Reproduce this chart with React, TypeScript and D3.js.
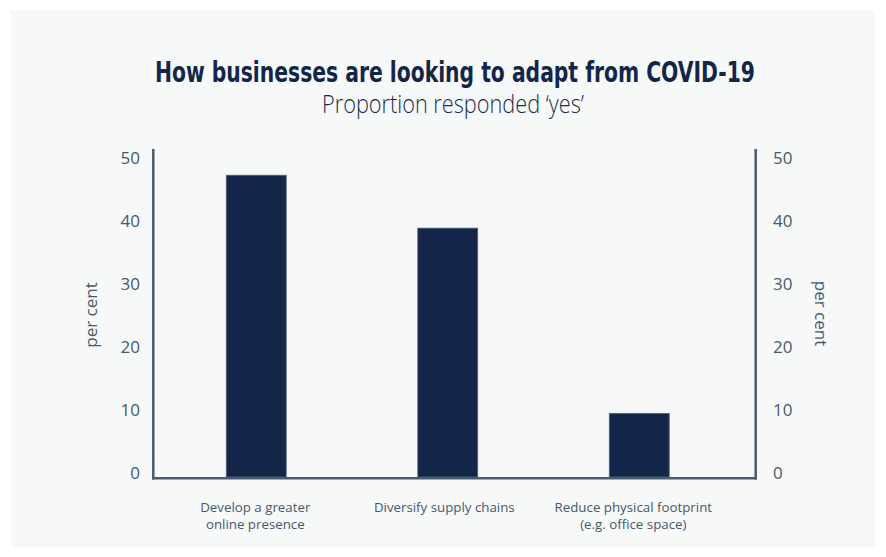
import React from "react";
import * as d3 from "d3";

const categories = ["Develop a greater online presence", "Diversify supply chains", "Reduce physical footprint (e.g. office space)"];
const categoryLines = [["Develop a greater", "online presence"], ["Diversify supply chains"], ["Reduce physical footprint", "(e.g. office space)"]];
const values = [47.9, 39.5, 10.1];
const yTicks = [0, 10, 20, 30, 40, 50];

const W = 886;
const H = 557;

export default function App() {
  const y = d3.scaleLinear().domain([0, 50]).range([477, 162]);
  const x = d3.scaleBand<string>().domain(categories).range([160.5, 735]).paddingInner(0.687).paddingOuter(0.3435);
  const xl = d3.scaleBand<string>().domain(categories).range([160.8, 727.8]);
  const axisColor = "#485c6c";
  const textColor = "#465a6a";
  const font = "'Open Sans', 'Noto Sans', sans-serif";
  return (
    <svg width={W} height={H} style={{ position: "absolute", left: 0, top: 0 }} fontFamily={font}>
      <rect x={0} y={0} width={W} height={H} fill="#ffffff" />
      <rect x={11} y={10} width={864} height={537} fill="#f7f8f8" />
      <text x={455} y={82} textAnchor="middle" fontSize={28} fontWeight={700} fill="#13264a"
        fontFamily="'DejaVu Sans Condensed', 'Liberation Sans Narrow', 'Open Sans', sans-serif"
        textLength={600} lengthAdjust="spacingAndGlyphs">How businesses are looking to adapt from COVID-19</text>
      <text x={453} y={113} textAnchor="middle" fontSize={26} fontWeight={300} fill="#1b2d4d"
        textLength={262} lengthAdjust="spacingAndGlyphs">Proportion responded ‘yes’</text>
      {categories.map((c, i) => (
        <rect key={c} x={x(c)} y={y(values[i])} width={x.bandwidth()} height={y(0) - y(values[i])}
          fill="#14264a" stroke="#4f6282" strokeWidth={0.8} />
      ))}
      <line x1={153.3} x2={153.3} y1={149} y2={479.5} stroke={axisColor} strokeWidth={2.5} />
      <line x1={755.7} x2={755.7} y1={149} y2={479.5} stroke={axisColor} strokeWidth={2.5} />
      <line x1={152} x2={757} y1={478.3} y2={478.3} stroke={axisColor} strokeWidth={2.5} />
      {yTicks.map((t) => (
        <g key={t}>
          <text x={140} y={y(t) - 5} textAnchor="end" dominantBaseline="central" fontSize={17} fill={textColor}>{t}</text>
          <text x={773} y={y(t) - 5} textAnchor="start" dominantBaseline="central" fontSize={17} fill={textColor}>{t}</text>
        </g>
      ))}
      <text transform="translate(90,315) rotate(-90)" textAnchor="middle" dominantBaseline="central" fontSize={17} fill={textColor}>per cent</text>
      <text transform="translate(821.5,313.5) rotate(90)" textAnchor="middle" dominantBaseline="central" fontSize={17} fill={textColor}>per cent</text>
      {categories.map((c, i) => (
        <text key={c} textAnchor="middle" fontSize={13.3} fill={textColor}>
          {categoryLines[i].map((ln, j) => (
            <tspan key={j} x={(xl(c) ?? 0) + xl.bandwidth() / 2} y={512 + j * 17}>{ln}</tspan>
          ))}
        </text>
      ))}
    </svg>
  );
}
